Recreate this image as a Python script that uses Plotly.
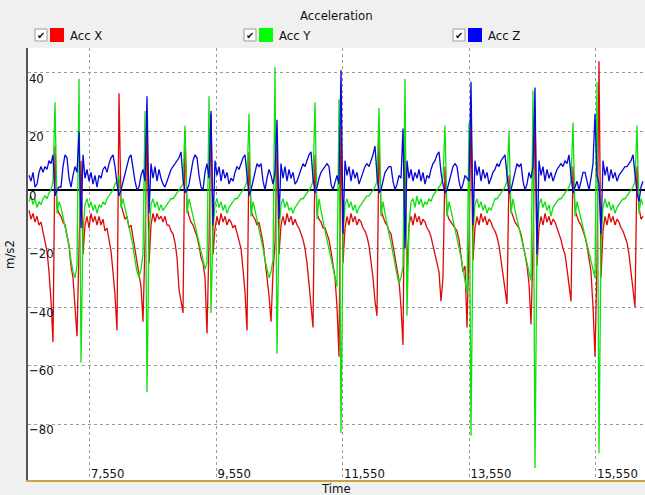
import numpy as np
import plotly.graph_objects as go

# Sampling of the accelerometer log (ms)
START_MS = 6586.0
SAMPLE_MS = 31.62

# Acceleration samples, m/s2
acc_x = [
    -7, -10, -8, -11, -9, -12, -11, -14, -17, -21, -28, -38, -52, 15, -6, -8, -9, -11, -12, -15, -19, -26, -30, -40, -50, -20,
    10, -22, -12, -9, -13, -8, -11, -9, -12, -9, -12, -10, -14, -13, -17, -21, -28, -36, -48, 33, -5, -8, -10, -9, -13, -12, -16, -21, -25, -28, -33, -45, -18,
    22, -25, -12, -8, -11, -8, -10, -9, -11, -9, -12, -12, -14, -15, -18, -23, -34, -38, -42, 20, -6, -9, -11, -12, -14, -16, -19, -23, -25, -30, -49, -18,
    26, -22, -13, -9, -12, -8, -11, -9, -12, -10, -11, -13, -12, -15, -17, -20, -27, -35, -48, 13, -7, -9, -10, -12, -11, -14, -18, -24, -30, -36, -45, -28, -18,
    15, -22, -12, -9, -12, -8, -11, -9, -12, -10, -12, -13, -15, -17, -20, -25, -32, -40, -47, 12, -8, -10, -11, -13, -13, -15, -17, -21, -26, -30, -40, -57,
    24, -25, -13, -9, -12, -8, -11, -9, -12, -10, -11, -13, -14, -16, -19, -24, -30, -38, -43, 18, -7, -9, -11, -12, -14, -15, -19, -23, -27, -31, -40, -53,
    20, -30, -12, -9, -12, -8, -11, -9, -12, -10, -11, -13, -14, -16, -19, -22, -25, -28, -38, -30, 8, -8, -10, -11, -12, -13, -14, -17, -22, -28, -26, -47, -18,
    25, -24, -13, -9, -12, -8, -11, -9, -12, -10, -11, -13, -14, -16, -19, -24, -30, -34, -39, 5, -7, -9, -11, -12, -13, -15, -18, -22, -26, -32, -46, -20,
    28, -26, -13, -9, -12, -8, -11, -9, -12, -10, -11, -13, -15, -17, -20, -22, -27, -33, -38, 8, -7, -9, -11, -12, -14, -16, -19, -23, -28, -40, -57, -25,
    44, -30, -14, -9, -12, -8, -11, -9, -12, -10, -11, -13, -14, -16, -18, -22, -28, -33, -40, 8, -6, -10, -9,
]

acc_y = [
    -4, -2, -5, -3, -6, -4, -5, -3, -2, -3, -1, 0, 3, 30, -8, -4, -6, -9, -12, -15, -19, -24, -28, -30, -26, 38,
    -59, -14, -5, -3, -6, -4, -7, -5, -8, -5, -6, -4, -5, -3, -2, -1, 0, 2, 3, 5, -6, -3, -6, -9, -12, -15, -19, -24, -28, -30, -27, -22, 27,
    -69, -15, -5, -3, -6, -4, -7, -5, -7, -6, -5, -4, -3, -3, -2, -1, 0, 1, 2, 22, -8, -3, -6, -9, -12, -15, -18, -21, -24, -27, -25, 32,
    -42, -14, -5, -3, -6, -4, -7, -5, -8, -6, -5, -4, -3, -3, -2, -1, 0, 1, 3, 26, -9, -4, -7, -10, -13, -16, -20, -24, -27, -30, -28, -24, 42,
    -56, -14, -5, -3, -6, -4, -7, -6, -8, -6, -5, -4, -3, -3, -2, -1, 0, 1, 3, 30, -10, -3, -7, -11, -14, -17, -20, -23, -26, -29, -33, 31,
    -83, -16, -5, -3, -6, -4, -7, -5, -8, -6, -5, -4, -3, -2, -2, -1, 0, 1, 3, 28, -9, -4, -8, -12, -15, -18, -22, -26, -29, -32, -30, -26,
    38, -43, -12, -4, -3, -6, -2, -5, -3, -6, -4, -5, -3, -4, -2, -1, 0, 1, 2, 4, 22, -9, -4, -7, -10, -13, -16, -19, -23, -27, -31, -35, 23,
    -84, -15, -5, -3, -6, -4, -7, -5, -8, -6, -7, -5, -3, -3, -2, -1, 0, 1, 3, 20, -8, -3, -7, -10, -13, -16, -19, -23, -26, -29, -31, 34,
    -95, -16, -5, -3, -6, -4, -7, -5, -9, -6, -5, -4, -3, -3, -2, -1, 0, 1, 3, 23, -9, -4, -7, -10, -13, -16, -19, -22, -25, -27, -30, 37,
    -90, -18, -6, -3, -6, -4, -7, -5, -8, -6, -5, -4, -3, -3, -2, -1, 0, 1, 3, 22, -8, -3, -5,
]

acc_z = [
    5, 3, 6, 1, 2, 6, 8, 6, 8, 7, 10, 9, 12, -2, 0, 1, 1, 8, 12, 11, 4, 1, 5, 8, 6, 20,
    -13, 12, 4, 7, 3, 6, 2, 5, 1, 5, 4, 7, 8, 6, 9, 11, 12, 8, 2, -2, 0, 3, 6, 8, 11, 12, 7, 3, 0, 1, 5, 7, 3,
    32, -8, 9, 4, 8, 3, 7, 4, 2, 1, 3, 5, 7, 8, 9, 10, 11, 13, 4, -1, 0, 2, 6, 10, 12, 11, 5, 1, 0, 6, 9, 4,
    27, -12, 10, 5, 8, 3, 7, 4, 6, 2, 4, 3, 6, 8, 7, 9, 11, 12, 6, -2, 0, 3, 7, 9, 8, 9, 3, 0, 4, 7, 5, 2, 6,
    24, -10, 9, 4, 8, 3, 7, 4, 6, 2, 3, 5, 7, 9, 8, 10, 12, 13, 4, -1, 1, 4, 6, 7, 8, 9, 8, 2, 0, 3, 5, 2,
    41, -15, 10, 5, 8, 3, 7, 4, 6, 2, 4, 6, 8, 9, 8, 10, 12, 15, 5, -1, 0, 3, 6, 7, 8, 8, 3, 0, 2, 5, 4, 21,
    -20, 10, 4, 7, 3, 6, 4, 7, 3, 6, 2, 5, 4, 7, 9, 10, 12, 13, 6, 2, -1, 0, 3, 6, 8, 9, 8, 3, 0, 2, 5, 4, 3,
    37, -12, 10, 5, 8, 3, 7, 4, 6, 2, 4, 6, 7, 9, 8, 10, 11, 12, 5, -1, 0, 3, 7, 9, 8, 9, 3, 0, 2, 6, 4, 8,
    35, -22, 10, 5, 8, 3, 7, 4, 6, 3, 5, 7, 8, 9, 8, 10, 9, 12, 5, -1, 1, 3, 0, 3, 6, 6, 3, 0, 4, 9, 26, 5,
    2, -15, 10, 5, 8, 3, 7, 4, 6, 3, 5, 6, 7, 8, 8, 9, 10, 12, 5, -1, -4, 1, 3,
]

series_names = ["Acc X", "Acc Y", "Acc Z"]
legend_colors = ["#ff0000", "#00ff00", "#0000ff"]
line_colors = ["#e00808", "#10e010", "#0808d8"]

x_ticks = [7550, 9550, 11550, 13550, 15550]
y_ticks = [40, 20, 0, -20, -40, -60, -80]
x_range = [6570, 16325]
y_range = [-99.1, 48.5]

time_ms = START_MS + SAMPLE_MS * np.arange(len(acc_x))

FONT = "Liberation Sans Narrow, Arial Narrow, DejaVu Sans Condensed, sans-serif"
W, H = 645, 495
ML, MR, MT, MB = 28, 0, 48, 15
PW, PH = W - ML - MR, H - MT - MB


def px_x(px):
    return (px - ML) / PW


def px_y(py):
    return (H - MB - py) / PH


fig = go.Figure()
for name, vals, color in zip(series_names, [acc_x, acc_y, acc_z], line_colors):
    fig.add_trace(go.Scatter(
        x=time_ms, y=vals, mode="lines", name=name,
        line=dict(color=color, width=1.3), showlegend=False,
        hoverinfo="skip",
    ))

shapes = []
annotations = []

# Header: title and check-box legend
annotations.append(dict(
    text="Acceleration", x=px_x(336), y=px_y(15), xref="paper", yref="paper",
    showarrow=False, xanchor="center", yanchor="middle",
    font=dict(family=FONT, size=13, color="#111"),
))
for k, (name, color) in enumerate(zip(series_names, legend_colors)):
    cb = [35, 244, 453][k]
    shapes.append(dict(
        type="rect", xref="paper", yref="paper",
        x0=px_x(cb), x1=px_x(cb + 12), y0=px_y(41), y1=px_y(29),
        fillcolor="white", line=dict(color="#9a9a9a", width=1),
    ))
    annotations.append(dict(
        text="✔", x=px_x(cb + 6), y=px_y(35), xref="paper", yref="paper",
        showarrow=False, xanchor="center", yanchor="middle",
        font=dict(family="DejaVu Sans", size=10, color="#111"),
    ))
    shapes.append(dict(
        type="rect", xref="paper", yref="paper",
        x0=px_x(cb + 15), x1=px_x(cb + 29), y0=px_y(42), y1=px_y(28),
        fillcolor=color, line=dict(color=color, width=0),
    ))
    annotations.append(dict(
        text=name, x=px_x(cb + 33), y=px_y(35), xref="paper", yref="paper",
        showarrow=False, xanchor="left", yanchor="middle",
        font=dict(family=FONT, size=13, color="#111"),
    ))

annotations.append(dict(
    text="Time", x=px_x(336), y=px_y(488), xref="paper", yref="paper",
    showarrow=False, xanchor="center", yanchor="middle",
    font=dict(family=FONT, size=13, color="#111"),
))
annotations.append(dict(
    text="m/s2", x=px_x(10), y=px_y(255), xref="paper", yref="paper",
    showarrow=False, xanchor="center", yanchor="middle", textangle=-90,
    font=dict(family=FONT, size=13, color="#111"),
))

fig.update_layout(
    width=W, height=H,
    margin=dict(l=ML, r=MR, t=MT, b=MB, pad=0),
    paper_bgcolor="#f0f0f0", plot_bgcolor="white",
    shapes=shapes, annotations=annotations,
    xaxis=dict(
        range=x_range, tickvals=x_ticks, tickformat=",d",
        ticklabelposition="inside right", ticks="",
        ticklabelstandoff=-4,
        tickfont=dict(family=FONT, size=13, color="#111"),
        showgrid=True, gridcolor="#9a9a9a", griddash="dot", gridwidth=1,
        showline=True, linecolor="#c8a448", linewidth=2,
        zeroline=False, automargin=False, fixedrange=True,
    ),
    yaxis=dict(
        range=y_range, tickvals=y_ticks,
        ticklabelposition="inside bottom", ticks="",
        ticklabelshift=-4,
        tickfont=dict(family=FONT, size=13, color="#111"),
        showgrid=True, gridcolor="#9a9a9a", griddash="dot", gridwidth=1,
        zeroline=True, zerolinecolor="#000000", zerolinewidth=2,
        showline=True, linecolor="#555555", linewidth=1.5,
        automargin=False, fixedrange=True,
    ),
)

fig.write_html("out.html")
